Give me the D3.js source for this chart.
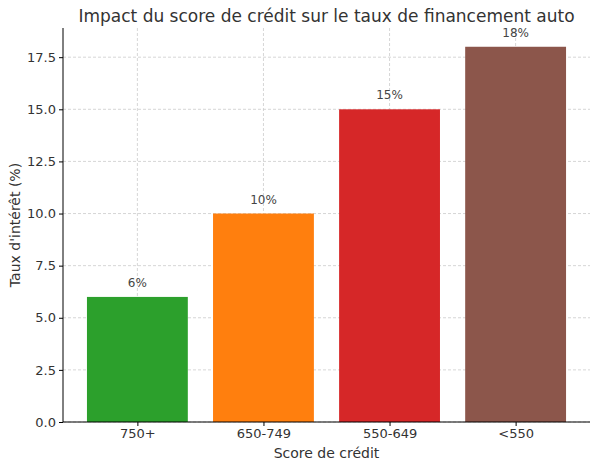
<!DOCTYPE html>
<html><head><meta charset="utf-8">
<script src="https://cdn.jsdelivr.net/npm/d3@7"></script>
<style>body{margin:0;background:#fff}text{font-family:"DejaVu Sans",sans-serif}</style>
</head><body><svg id="chart" width="600" height="468"></svg>
<script>
var categories = ["750+", "650-749", "550-649", "<550"];
var rates = [6, 10, 15, 18];
var colors = ["#2ca02c", "#ff7f0e", "#d62728", "#8c564b"];
var yTicks = [0, 2.5, 5, 7.5, 10, 12.5, 15, 17.5];

var svg = d3.select("#chart");
var m = {left: 63, right: 590, top: 28, bottom: 422};

var x = d3.scaleLinear().domain([-0.59, 3.59]).range([m.left, m.right]);
var y = d3.scaleLinear().domain([0, 18.9]).range([m.bottom, m.top]);
var bw = x(0.4) - x(-0.4);

var g = svg.append("g");
// grid
g.selectAll(".hg").data(yTicks).enter().append("line")
    .attr("x1", m.left).attr("x2", m.right)
    .attr("y1", function (d) { return y(d); }).attr("y2", function (d) { return y(d); })
    .attr("stroke", "#ccc").attr("stroke-dasharray", "3,2").attr("stroke-width", 0.8);
g.selectAll(".vg").data(categories).enter().append("line")
    .attr("x1", function (d, i) { return x(i); }).attr("x2", function (d, i) { return x(i); })
    .attr("y1", m.top).attr("y2", m.bottom)
    .attr("stroke", "#ccc").attr("stroke-dasharray", "3,2").attr("stroke-width", 0.8);

g.selectAll(".bar").data(rates).enter().append("rect")
    .attr("x", function (d, i) { return x(i) - bw / 2; })
    .attr("width", bw)
    .attr("y", function (d) { return y(d); })
    .attr("height", function (d) { return y(0) - y(d); })
    .attr("fill", function (d, i) { return colors[i]; });

g.selectAll(".lbl").data(rates).enter().append("text")
    .attr("x", function (d, i) { return x(i); })
    .attr("y", function (d) { return y(d) - 10; })
    .attr("text-anchor", "middle").attr("font-size", 12).attr("fill", "#444")
    .text(function (d) { return d + "%"; });

var yAxis = d3.axisLeft(y).tickValues(yTicks).tickFormat(d3.format(".1f")).tickSize(4);
svg.append("g").attr("transform", "translate(" + m.left + ",0)").call(yAxis)
    .call(function (s) { s.selectAll("text").attr("font-size", 13).attr("fill", "#333"); s.select(".domain").attr("d", "M0," + m.top + "V" + m.bottom); });

var xAxis = d3.axisBottom(x).tickValues([0, 1, 2, 3]).tickFormat(function (d) { return categories[d]; }).tickSize(4);
svg.append("g").attr("transform", "translate(0," + m.bottom + ")").call(xAxis)
    .call(function (s) { s.selectAll("text").attr("font-size", 13).attr("fill", "#333"); s.select(".domain").attr("d", "M" + m.left + ",0H" + m.right); });

svg.append("text").attr("x", (m.left + m.right) / 2).attr("y", 22)
    .attr("text-anchor", "middle").attr("font-size", 17).attr("fill", "#333")
    .text("Impact du score de crédit sur le taux de financement auto");
svg.append("text").attr("x", (m.left + m.right) / 2).attr("y", 458)
    .attr("text-anchor", "middle").attr("font-size", 14).attr("fill", "#333")
    .text("Score de crédit");
svg.append("text").attr("transform", "translate(20," + (m.top + m.bottom) / 2 + ") rotate(-90)")
    .attr("text-anchor", "middle").attr("font-size", 14).attr("fill", "#333")
    .text("Taux d'intérêt (%)");
</script></body></html>
